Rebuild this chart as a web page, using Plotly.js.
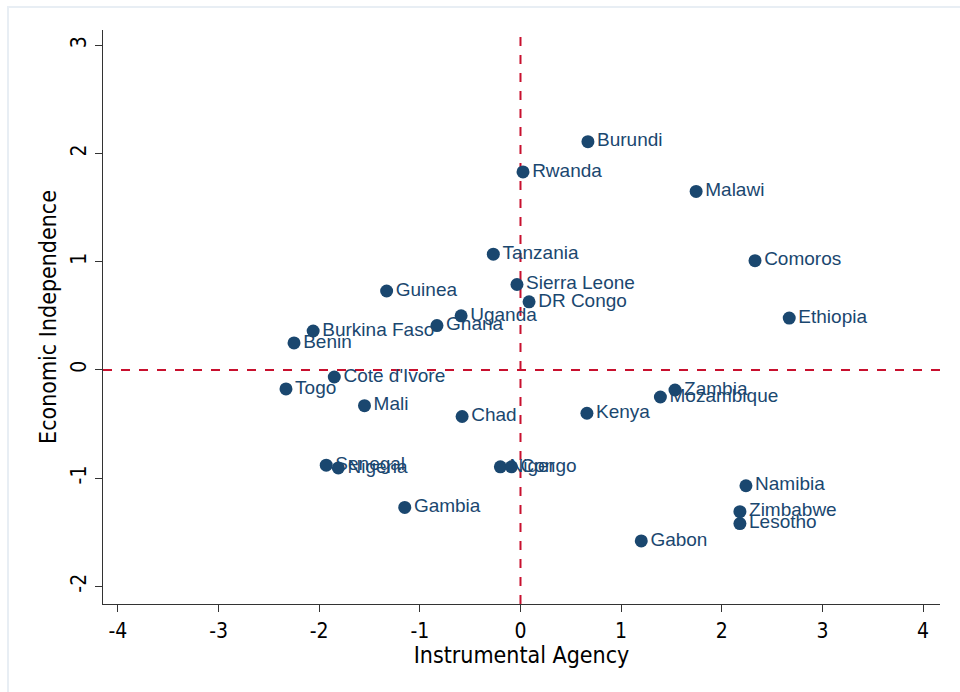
<!DOCTYPE html>
<html>
<head>
<meta charset="utf-8">
<script src="https://cdn.plot.ly/plotly-3.0.1.min.js"></script>
<style>html,body{margin:0;padding:0;background:#fff;}#chart{width:960px;height:692px;}</style>
</head>
<body>
<div id="chart"></div>
<script>
const countries = ["Burundi","Rwanda","Malawi","Tanzania","Comoros","Sierra Leone","DR Congo","Guinea","Uganda","Ghana","Burkina Faso","Benin","Ethiopia","Cote d'Ivore","Togo","Mali","Chad","Kenya","Zambia","Mozambique","Senegal","Nigeria","Niger","Congo","Namibia","Zimbabwe","Lesotho","Gabon","Gambia"];
const instrumentalAgency = [0.67,0.025,1.745,-0.27,2.33,-0.035,0.085,-1.33,-0.59,-0.83,-2.06,-2.25,2.67,-1.85,-2.33,-1.55,-0.58,0.66,1.535,1.39,-1.93,-1.81,-0.20,-0.09,2.24,2.18,2.18,1.20,-1.15];
const economicIndependence = [2.11,1.83,1.65,1.07,1.01,0.79,0.63,0.73,0.50,0.41,0.36,0.25,0.48,-0.065,-0.175,-0.33,-0.43,-0.40,-0.185,-0.25,-0.88,-0.905,-0.895,-0.895,-1.07,-1.31,-1.42,-1.58,-1.27];
const xTicks = [-4,-3,-2,-1,0,1,2,3,4];
const yTicks = [-2,-1,0,1,2,3];

const navy = "#1a476f";
const red = "#c8102e";
const narrow = "DejaVu Sans Condensed, Liberation Sans Narrow, Arial Narrow, sans-serif";
const tickFont = {family: narrow, size: 21, color: "#000"};

const trace = {
  x: instrumentalAgency,
  y: economicIndependence,
  text: countries,
  mode: "markers+text",
  type: "scatter",
  textposition: "middle right",
  marker: {color: navy, size: 13},
  textfont: {family: "Liberation Sans, Arial, sans-serif", size: 19, color: navy},
  cliponaxis: false,
  hoverinfo: "none"
};

const layout = {
  width: 960, height: 692,
  margin: {l: 103, r: 20, t: 30, b: 88},
  paper_bgcolor: "#fff", plot_bgcolor: "#fff",
  showlegend: false,
  xaxis: {
    range: [-4.148, 4.168],
    tickvals: xTicks, ticktext: xTicks.map(String),
    ticks: "outside", ticklen: 7, tickwidth: 1, tickcolor: "#333",
    showline: true, linecolor: "#333", linewidth: 1.3,
    showgrid: false, zeroline: false,
    tickfont: tickFont,
    title: {text: "Instrumental Agency", font: {family: narrow, size: 23, color: "#000"}, standoff: 2}
  },
  yaxis: {
    range: [-2.163, 3.142],
    tickvals: yTicks, ticktext: yTicks.map(String),
    tickangle: -90,
    ticks: "outside", ticklen: 7, tickwidth: 1, tickcolor: "#333",
    showline: true, linecolor: "#333", linewidth: 1.3,
    showgrid: false, zeroline: false,
    tickfont: tickFont,
    title: {text: "Economic Independence", font: {family: narrow, size: 23, color: "#000"}, standoff: 4}
  },
  shapes: [
    {type: "line", xref: "x", yref: "paper", x0: 0, x1: 0, y0: 0, y1: 1, line: {color: red, width: 2, dash: "dash"}, layer: "below"},
    {type: "line", xref: "paper", yref: "y", x0: 0, x1: 1, y0: 0, y1: 0, line: {color: red, width: 2, dash: "dash"}, layer: "below"},
    {type: "rect", xref: "paper", yref: "paper", x0: -95/837, x1: 1.2, y0: -0.3, y1: 1 + 23/574, line: {color: "#e8eef4", width: 2}, fillcolor: "rgba(0,0,0,0)"}
  ]
};

Plotly.newPlot("chart", [trace], layout, {staticPlot: true});
</script>
</body>
</html>
